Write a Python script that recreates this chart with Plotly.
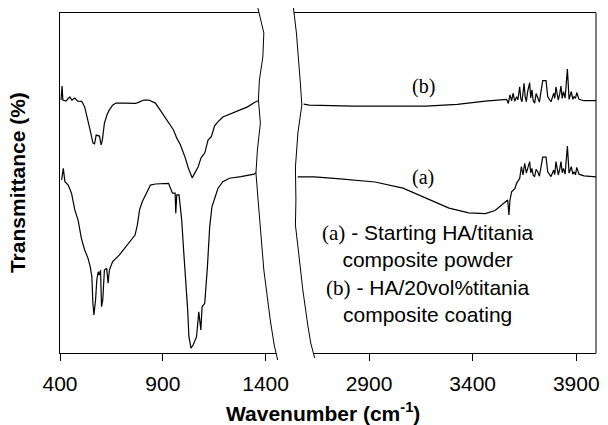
import plotly.graph_objects as go

# ---------------- data ----------------
# curve (b): HA/20vol% titania coating, left part of the broken axis
wn_b_left = [405, 410, 414, 429, 438, 448, 458, 472, 486, 506, 520, 534, 544, 554, 560,
             568, 576, 592, 600, 606, 616, 630, 640, 656, 672, 712, 768, 784, 808, 832,
             864, 880, 904, 928, 952, 968, 986, 1008, 1024, 1043, 1058, 1072, 1086, 1104,
             1120, 1136, 1152, 1168, 1192, 1216, 1245, 1280, 1312, 1344, 1362]
t_b_left = [74.4, 78.5, 74.4, 74.1, 74.7, 75.3, 74.4, 75.0, 74.1, 74.0, 72.4, 69.1, 66.2,
            63.5, 61.8, 61.5, 64.1, 63.8, 61.2, 62.6, 67.6, 70.3, 71.5, 72.9, 73.5, 73.5,
            73.4, 73.8, 74.4, 74.4, 73.5, 72.1, 70.0, 67.9, 65.6, 63.2, 61.2, 57.6, 54.4,
            51.5, 53.2, 54.8, 57.4, 58.8, 62.6, 63.6, 66.8, 68.0, 69.4, 70.0, 70.9, 71.7,
            72.4, 73.6, 74.2]

# curve (a): starting HA/titania powder, left part
wn_a_left = [408, 416, 424, 440, 456, 472, 488, 504, 520, 536, 547, 555, 560, 565, 573,
             579, 586, 592, 597, 602, 608, 616, 627, 634, 640, 656, 688, 736, 765, 776,
             787, 800, 824, 840, 864, 928, 947, 960, 963, 968, 979, 992, 1000, 1011, 1021,
             1027, 1037, 1048, 1064, 1075, 1085, 1091, 1104, 1117, 1128, 1139, 1152, 1168,
             1192, 1224, 1280, 1344, 1352]
t_a_left = [50.9, 54.3, 50.4, 49.4, 47.0, 42.1, 39.1, 33.7, 30.3, 27.9, 25.4, 22.4, 14.6,
            11.2, 15.6, 21.5, 23.9, 22.9, 24.4, 13.6, 15.6, 24.4, 24.9, 20.5, 24.4, 26.9,
            28.8, 32.3, 34.7, 37.6, 42.1, 44.5, 47.4, 49.4, 49.7, 49.9, 47.0, 47.0, 41.1,
            46.5, 46.5, 39.1, 31.3, 22.4, 12.6, 4.8, 1.4, 2.4, 4.8, 12.1, 6.8, 13.6, 14.6,
            25.4, 37.1, 43.0, 45.5, 48.4, 50.4, 51.4, 51.9, 52.6, 53.0]

# curve (b), right part of the broken axis
wn_b_right = [2585, 2612, 2826, 3175, 3326, 3461, 3564, 3572, 3580, 3588, 3595, 3603, 3612,
              3618, 3627, 3632, 3638, 3648, 3653, 3659, 3665, 3675, 3680, 3686, 3692, 3699,
              3706, 3714, 3722, 3731, 3738, 3754, 3762, 3770, 3778, 3791, 3796, 3802, 3808,
              3813, 3820, 3826, 3832, 3838, 3846, 3857, 3865, 3870, 3876, 3883, 3889, 3896,
              3902, 3913, 3925, 3937, 3995]
t_b_right = [73.2, 72.9, 72.6, 72.6, 73.1, 74.1, 74.6, 73.4, 75.9, 74.2, 76.4, 74.0, 75.4,
             74.4, 78.3, 74.8, 73.9, 79.3, 75.5, 73.9, 76.8, 79.5, 75.0, 77.4, 74.2, 73.5,
             76.3, 75.0, 73.8, 77.4, 80.1, 80.1, 75.4, 74.6, 73.9, 76.4, 74.9, 78.3, 75.6,
             74.4, 76.2, 78.5, 74.9, 76.9, 75.0, 83.5, 74.6, 75.8, 76.9, 74.6, 75.4, 74.9,
             76.6, 74.6, 74.4, 74.2, 74.2]

# curve (a), right part
wn_a_right = [2556, 2636, 2747, 2929, 3064, 3191, 3286, 3381, 3461, 3508, 3548, 3569, 3575,
              3580, 3588, 3604, 3612, 3627, 3635, 3643, 3651, 3659, 3667, 3675, 3680, 3686,
              3692, 3699, 3706, 3714, 3722, 3731, 3738, 3754, 3762, 3770, 3778, 3791, 3796,
              3802, 3808, 3813, 3820, 3826, 3832, 3838, 3846, 3857, 3865, 3870, 3876, 3883,
              3889, 3896, 3902, 3913, 3925, 3937, 3995]
t_a_right = [51.8, 51.8, 51.3, 50.3, 48.5, 45.0, 42.6, 41.2, 41.0, 41.9, 44.0, 45.0, 40.6,
             45.0, 47.4, 48.4, 49.9, 51.4, 54.8, 52.4, 55.8, 52.9, 54.6, 56.3, 53.0, 54.3,
             52.2, 51.9, 54.0, 53.3, 52.0, 55.3, 57.6, 57.6, 53.3, 52.6, 51.9, 53.8, 52.5,
             56.3, 53.4, 52.4, 54.0, 56.3, 53.0, 54.3, 52.6, 60.9, 52.9, 53.9, 54.8, 52.6,
             53.3, 52.4, 54.6, 52.6, 52.3, 52.1, 51.8]

left_ticks = [400, 900, 1400]
right_ticks = [2900, 3400, 3900]
label_a = "(a)"
label_b = "(b)"
note_lines = ["(a) - Starting HA/titania", "composite powder",
              "(b) - HA/20vol%titania", "composite coating"]

# ---------------- layout geometry ----------------
W, H = 608, 425
ML, MR, MT, MB = 60, 5, 13, 72
PW, PH = W - ML - MR, H - MT - MB


def px(x):
    return (x - ML) / PW


def py(y):
    return (H - MB - y) / PH


SANS = "Liberation Sans, Arial, sans-serif"
SERIF = "Liberation Serif, Times New Roman, serif"
line_style = dict(color="black", width=1.2)

fig = go.Figure()
fig.add_trace(go.Scatter(x=wn_b_left, y=t_b_left, mode="lines", line=line_style,
                         xaxis="x", yaxis="y", showlegend=False))
fig.add_trace(go.Scatter(x=wn_a_left, y=t_a_left, mode="lines", line=line_style,
                         xaxis="x", yaxis="y", showlegend=False))
fig.add_trace(go.Scatter(x=wn_b_right, y=t_b_right, mode="lines", line=line_style,
                         xaxis="x2", yaxis="y", showlegend=False))
fig.add_trace(go.Scatter(x=wn_a_right, y=t_a_right, mode="lines", line=line_style,
                         xaxis="x2", yaxis="y", showlegend=False))

axis_common = dict(showline=True, mirror=True, linecolor="black", linewidth=1,
                   ticks="outside", ticklen=7, tickwidth=1, tickcolor="black",
                   showgrid=False, zeroline=False,
                   tickfont=dict(family=SANS, size=21, color="black"),
                   ticklabelstandoff=5)

left_end = 285
right_start = 290
x_left_scale = (268.3 - 60) / 1000.0
x_right_scale = 0.21
fig.update_layout(
    width=W, height=H,
    margin=dict(l=ML, r=MR, t=MT, b=MB, pad=0),
    paper_bgcolor="white", plot_bgcolor="white",
    xaxis=dict(domain=[0, px(left_end)],
               range=[400, 400 + (left_end - ML) / x_left_scale],
               tickvals=left_ticks, anchor="y", **axis_common),
    xaxis2=dict(domain=[px(right_start), 1],
                range=[3995 - (W - MR - right_start) / x_right_scale, 3995],
                tickvals=right_ticks, anchor="y", **axis_common),
    yaxis=dict(range=[0, 100], domain=[0, 1], showline=True, linecolor="black",
               linewidth=1, showticklabels=False, ticks="", showgrid=False,
               zeroline=False),
)

# break marks (wavy lines) in pixel positions of the figure
left_wave = [(260.5, 8), (266.5, 33), (265.5, 57), (262, 80), (261, 100), (263, 123),
             (260, 150), (258.5, 173), (261.5, 210), (266.5, 270), (273, 320),
             (277, 345), (280.5, 360)]
right_wave = [(296.5, 8), (299.5, 33), (303.5, 83), (305, 105), (301, 133),
              (298.5, 167), (299, 200), (298.5, 225), (302, 255), (306, 290),
              (311, 325), (314, 343), (318, 358)]


def path_of(points):
    return "M " + " L ".join(f"{px(a):.5f},{py(b):.5f}" for a, b in points)


gap = path_of(left_wave + right_wave[::-1]) + " Z"
shapes = [
    dict(type="line", xref="paper", yref="paper", x0=1, x1=1, y0=0, y1=1,
         line=dict(color="black", width=1)),
    dict(type="path", xref="paper", yref="paper", path=gap, fillcolor="white",
         line=dict(width=0), layer="above"),
    dict(type="path", xref="paper", yref="paper", path=path_of(left_wave),
         line=dict(color="black", width=1), layer="above"),
    dict(type="path", xref="paper", yref="paper", path=path_of(right_wave),
         line=dict(color="black", width=1), layer="above"),
]
fig.update_layout(shapes=shapes)


def serif_span(s):
    return f'<span style="font-family:{SERIF}">{s}</span>'


note_text = "<br>".join([
    serif_span("(a)") + note_lines[0][3:],
    note_lines[1],
    serif_span("(b)") + note_lines[2][3:],
    note_lines[3],
])

annotations = [
    dict(text="<b>Transmittance (%)</b>", textangle=-90, xref="paper", yref="paper",
         x=px(16.5), y=0.5, showarrow=False, xanchor="center", yanchor="middle",
         font=dict(family=SANS, size=21, color="black")),
    dict(text="<b>Wavenumber (cm<sup>-1</sup>)</b>", xref="paper", yref="paper",
         x=px(326.5), y=py(412), showarrow=False, xanchor="center", yanchor="middle",
         font=dict(family=SANS, size=21, color="black")),
    dict(text=label_b, xref="x2", yref="y", x=3163, y=78.3, showarrow=False,
         xanchor="center", yanchor="middle",
         font=dict(family=SERIF, size=20, color="black")),
    dict(text=label_a, xref="x2", yref="y", x=3161, y=51.5, showarrow=False,
         xanchor="center", yanchor="middle",
         font=dict(family=SERIF, size=20, color="black")),
    dict(text=note_text, xref="paper", yref="paper", x=px(433), y=py(273.3),
         showarrow=False, xanchor="center", yanchor="middle", align="center",
         font=dict(family=SANS, size=21, color="black")),
]
fig.update_layout(annotations=annotations)

fig.write_html("out.html")
